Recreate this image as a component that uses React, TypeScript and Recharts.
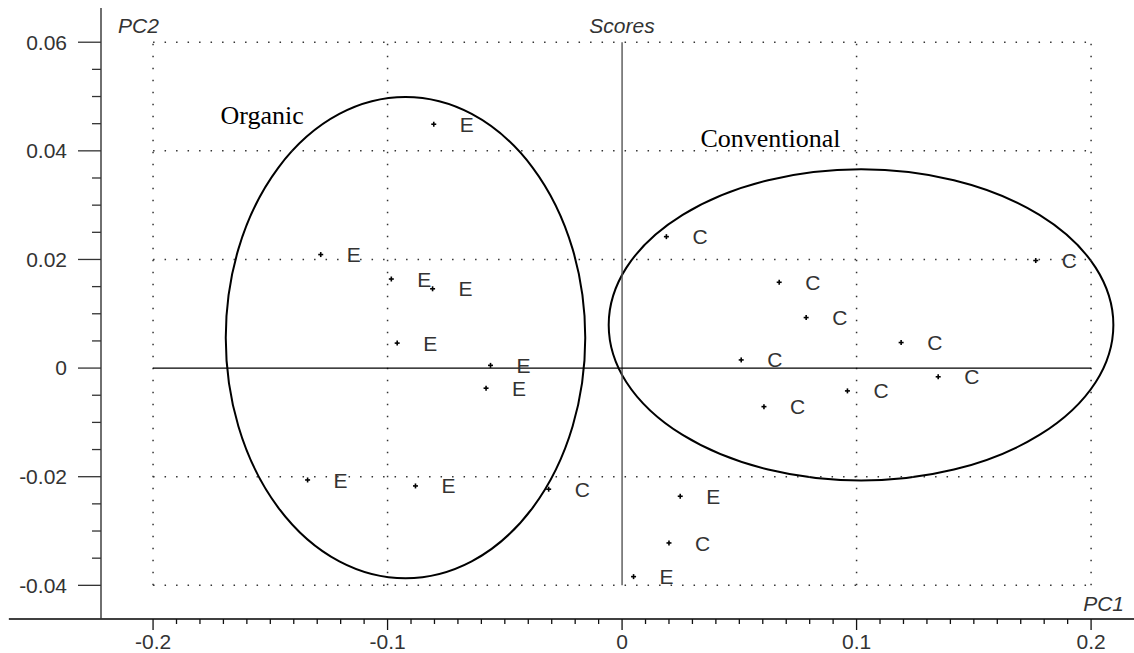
import React from 'react';
import {
  ScatterChart,
  Scatter,
  XAxis,
  YAxis,
  ReferenceLine,
  ReferenceArea,
  ReferenceDot,
  Customized,
} from 'recharts';

// ---- data ----
const pointLabels = ['E', 'E', 'E', 'E', 'E', 'E', 'E', 'E', 'E', 'E', 'E', 'C', 'C', 'C', 'C', 'C', 'C', 'C', 'C', 'C', 'C', 'C'];
const pc1 = [-0.0803, -0.1285, -0.0984, -0.0808, -0.0959, -0.0561, -0.058, -0.1341, -0.0881, 0.0248, 0.0049,
  -0.0313, 0.02, 0.1764, 0.067, 0.0785, 0.119, 0.0508, 0.1348, 0.0961, 0.0605, 0.0189];
const pc2 = [0.0449, 0.0209, 0.0164, 0.0146, 0.0046, 0.0005, -0.0037, -0.0206, -0.0217, -0.0236, -0.0384,
  -0.0223, -0.0322, 0.0198, 0.0158, 0.0093, 0.0047, 0.0015, -0.0016, -0.0042, -0.0071, 0.0242];

// group ellipses: bounding boxes [x1, x2, y1, y2]
const groupNames = ['Organic', 'Conventional'];
const groupBoxes = [
  [-0.169, -0.0157, -0.0387, 0.0499],
  [-0.0057, 0.2095, -0.0207, 0.0366],
];
const groupLabelPos = [
  [-0.1712, 0.0449],
  [0.0334, 0.0407],
];

// axes
const xDomain = [-0.2222, 0.2183];
const yDomain = [-0.0462, 0.0663];
const xMajor = [-0.2, -0.1, 0, 0.1, 0.2];
const xMajorLabels = ['-0.2', '-0.1', '0', '0.1', '0.2'];
const yMajor = [-0.04, -0.02, 0, 0.02, 0.04, 0.06];
const yMajorLabels = ['-0.04', '-0.02', '0', '0.02', '0.04', '0.06'];
const xMinorStep = 0.01;
const yMinorStep = 0.005;
const gridX = [-0.2, -0.1, 0.1, 0.2];
const gridY = [-0.04, -0.02, 0.02, 0.04, 0.06];

const xTicks: number[] = [];
for (let i = Math.round(xMajor[0] / xMinorStep); i <= Math.round(xMajor[xMajor.length - 1] / xMinorStep); i++) {
  xTicks.push(Math.round(i * xMinorStep * 1000) / 1000);
}
const yTicks: number[] = [];
for (let i = Math.round(yMajor[0] / yMinorStep); i <= Math.round(yMajor[yMajor.length - 1] / yMinorStep); i++) {
  yTicks.push(Math.round(i * yMinorStep * 10000) / 10000);
}

const data = pc1.map((x, i) => ({ x, y: pc2[i], label: pointLabels[i] }));

const SANS = "'Liberation Sans', Arial, sans-serif";
const SERIF = "'Liberation Serif', 'Times New Roman', serif";
const TEXT = '#333';

const XTick = (props: any) => {
  const { x, y, payload } = props;
  const v = payload.value;
  const idx = xMajor.findIndex((m) => Math.abs(m - v) < 1e-9);
  const major = idx >= 0;
  return (
    <g>
      <line x1={x} y1={y} x2={x} y2={y + (major ? 11 : 5)} stroke="#111" strokeWidth={1.3} />
      {major && (
        <text x={x} y={y + 30} textAnchor="middle" fontSize={21} fill={TEXT} fontFamily={SANS}>
          {xMajorLabels[idx]}
        </text>
      )}
    </g>
  );
};

const YTick = (props: any) => {
  const { x, y, payload } = props;
  const v = payload.value;
  const idx = yMajor.findIndex((m) => Math.abs(m - v) < 1e-9);
  const major = idx >= 0;
  return (
    <g>
      <line x1={x - (major ? 23 : 9)} y1={y} x2={x} y2={y} stroke="#333" strokeWidth={1.3} />
      {major && (
        <text x={x - 34} y={y} dy="0.35em" textAnchor="end" fontSize={21} fill={TEXT} fontFamily={SANS}>
          {yMajorLabels[idx]}
        </text>
      )}
    </g>
  );
};

const PointShape = (props: any) => {
  const { cx, cy, payload } = props;
  return (
    <g>
      <line x1={cx - 2.5} y1={cy} x2={cx + 2.5} y2={cy} stroke="#000" strokeWidth={1.6} />
      <line x1={cx} y1={cy - 2.5} x2={cx} y2={cy + 2.5} stroke="#000" strokeWidth={1.6} />
      <text x={cx + 26} y={cy} dy="0.36em" fontSize={21} fill={TEXT} fontFamily={SANS}>
        {payload.label}
      </text>
    </g>
  );
};

const EllipseShape = (p: any) => {
  const w = Math.abs(p.width);
  const h = Math.abs(p.height);
  return (
    <ellipse cx={p.x + p.width / 2} cy={p.y + p.height / 2} rx={w / 2} ry={h / 2} fill="none" stroke="#000" strokeWidth={2} />
  );
};

const Titles = () => (
  <g fontFamily={SANS} fontStyle="italic" fontSize={21} fill={TEXT}>
    <text x={118} y={33}>PC2</text>
    <text x={622} y={33} textAnchor="middle">Scores</text>
    <text x={1124} y={611} textAnchor="end">PC1</text>
  </g>
);

export default function App() {
  return (
    <div style={{ position: 'absolute', left: 0, top: 0, width: 1134, height: 653, background: '#fff' }}>
      <ScatterChart width={1134} height={653} margin={{ top: 8, right: 0, bottom: 0, left: 0 }}>
        <XAxis
          type="number"
          dataKey="x"
          domain={xDomain}
          allowDataOverflow
          ticks={xTicks}
          interval={0}
          tick={<XTick />}
          tickLine={false}
          tickSize={0}
          tickMargin={0}
          height={34}
          axisLine={{ stroke: '#000', strokeWidth: 1.4 }}
        />
        <YAxis
          type="number"
          dataKey="y"
          domain={yDomain}
          allowDataOverflow
          ticks={yTicks}
          interval={0}
          tick={<YTick />}
          tickLine={false}
          tickSize={0}
          tickMargin={0}
          width={101}
          axisLine={{ stroke: '#333', strokeWidth: 1.4 }}
        />
        {/* left extension of the x axis line */}
        <ReferenceLine
          segment={[{ x: -0.2615, y: yDomain[0] }, { x: xDomain[0], y: yDomain[0] }]}
          stroke="#000"
          strokeWidth={1.4}
          ifOverflow="visible"
        />
        {gridX.map((gx) => (
          <ReferenceLine
            key={'gx' + gx}
            segment={[{ x: gx, y: yMajor[0] }, { x: gx, y: yMajor[yMajor.length - 1] }]}
            stroke="#333"
            strokeWidth={1.5}
            strokeDasharray="1.5 10.5"
          />
        ))}
        {gridY.map((gy) => (
          <ReferenceLine
            key={'gy' + gy}
            segment={[{ x: xMajor[0], y: gy }, { x: xMajor[xMajor.length - 1], y: gy }]}
            stroke="#333"
            strokeWidth={1.5}
            strokeDasharray="1.5 10"
          />
        ))}
        <ReferenceLine
          segment={[{ x: 0, y: yMajor[0] }, { x: 0, y: yMajor[yMajor.length - 1] }]}
          stroke="#555"
          strokeWidth={1.4}
        />
        <ReferenceLine
          segment={[{ x: xMajor[0], y: 0 }, { x: xMajor[xMajor.length - 1], y: 0 }]}
          stroke="#000"
          strokeWidth={1.4}
        />
        {groupBoxes.map((b, i) => (
          <ReferenceArea
            key={'g' + i}
            x1={b[0]}
            x2={b[1]}
            y1={b[2]}
            y2={b[3]}
            shape={EllipseShape}
            ifOverflow="visible"
          />
        ))}
        {groupLabelPos.map((p, i) => (
          <ReferenceDot
            key={'gl' + i}
            x={p[0]}
            y={p[1]}
            r={0}
            ifOverflow="visible"
            shape={(sp: any) => (
              <text x={sp.cx} y={sp.cy} fontSize={26} fontFamily={SERIF} fill="#000">
                {groupNames[i]}
              </text>
            )}
          />
        ))}
        <Scatter data={data} shape={PointShape} isAnimationActive={false} />
        <Customized component={<Titles />} />
      </ScatterChart>
    </div>
  );
}
